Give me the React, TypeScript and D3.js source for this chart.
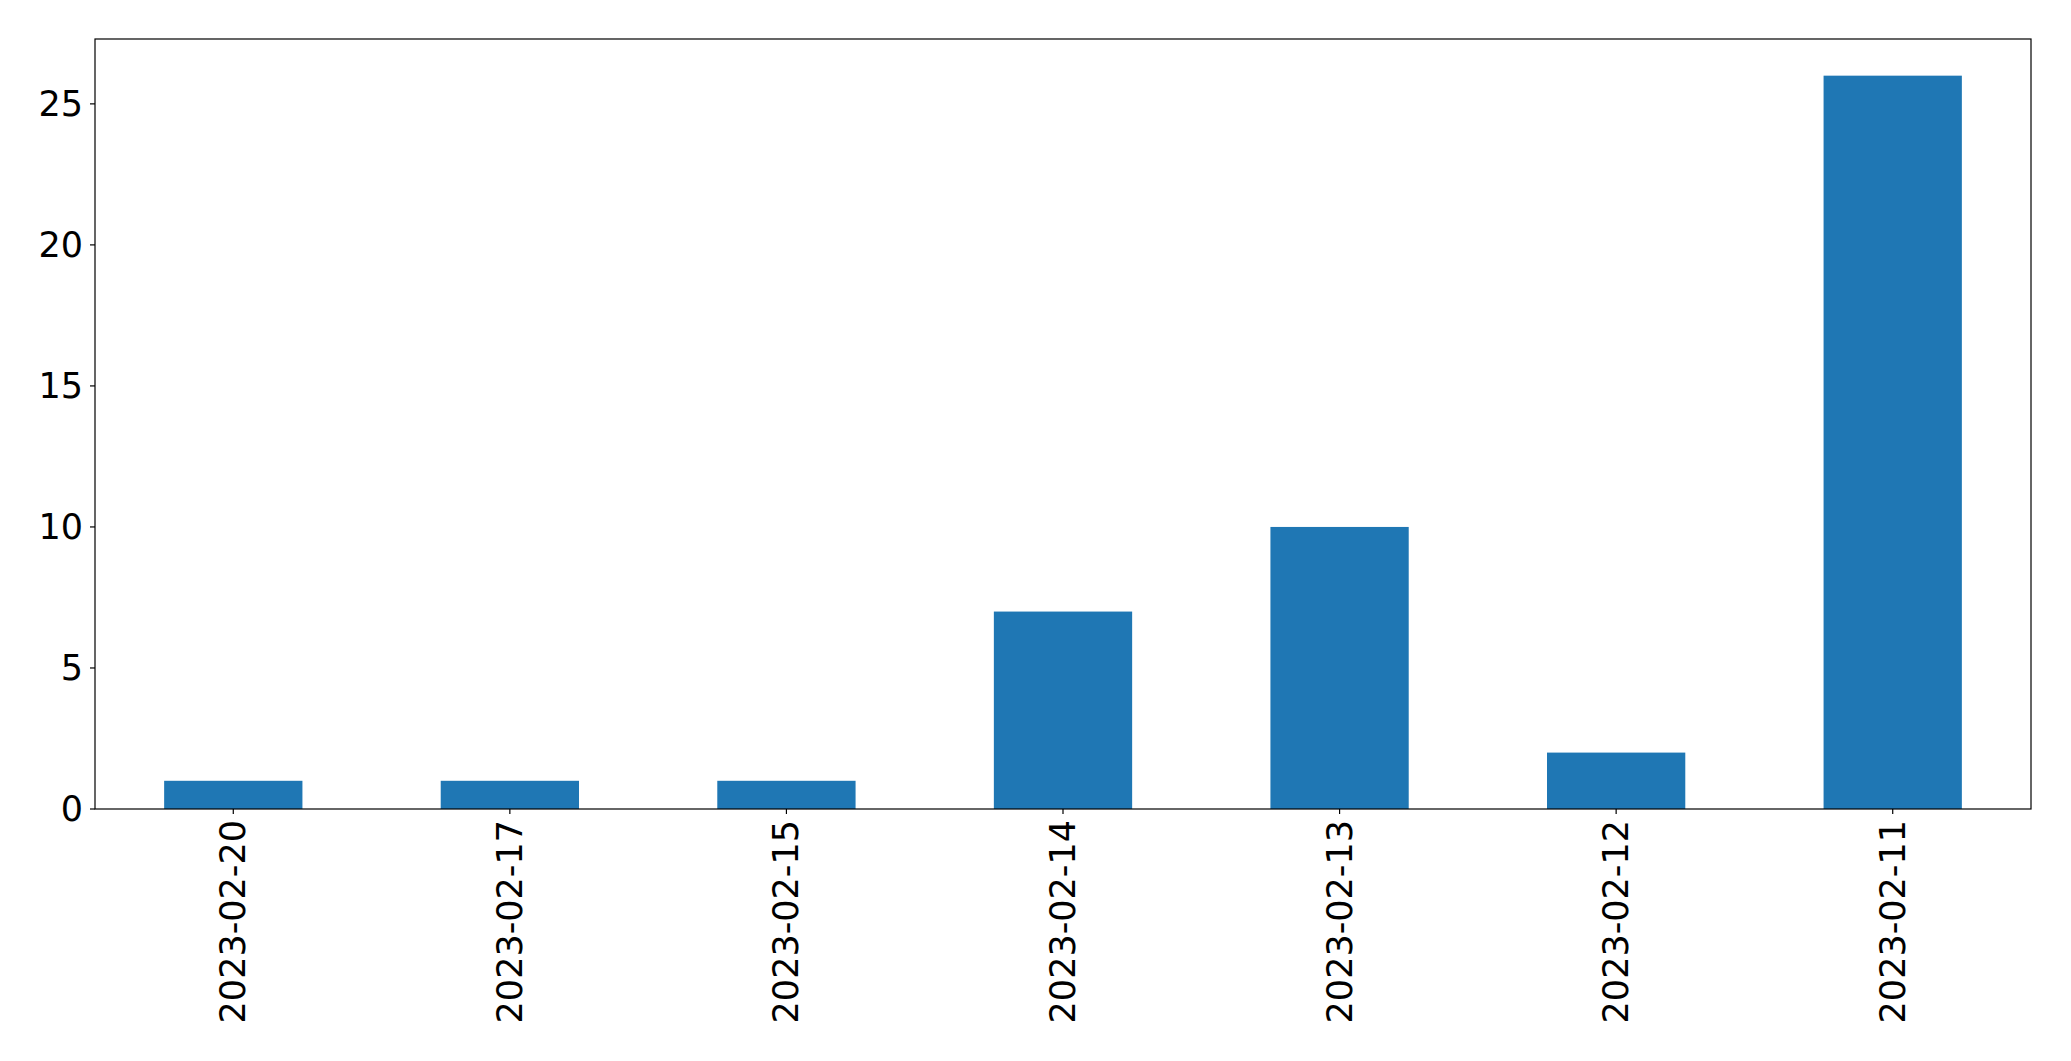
import React from "react";
import * as d3 from "d3";

const categories = ["2023-02-20", "2023-02-17", "2023-02-15", "2023-02-14", "2023-02-13", "2023-02-12", "2023-02-11"];
const values = [1, 1, 1, 7, 10, 2, 26];
const yTicks = [0, 5, 10, 15, 20, 25];

const W = 2071, H = 1061;
const left = 95, right = 2031, top = 39, bottom = 809;
const FONT = "DejaVu Sans, sans-serif";
const FS = 35;

export default function App() {
  const x = d3.scaleBand<string>().domain(categories).range([left, right]).padding(0);
  const yMax = d3.max(values)! * 1.05;
  const y = d3.scaleLinear().domain([0, yMax]).range([bottom, top]);
  const bw = x.bandwidth() * 0.5;
  return (
    <svg width={W} height={H} style={{ display: "block", position: "absolute", left: 0, top: 0 }}>
      <rect x={0} y={0} width={W} height={H} fill="#fff" />
      {categories.map((c, i) => {
        const cx = x(c)! + x.bandwidth() / 2;
        return (
          <rect key={c} x={cx - bw / 2} y={y(values[i])} width={bw} height={y(0) - y(values[i])} fill="#1f77b4" />
        );
      })}
      <rect x={left} y={top} width={right - left} height={bottom - top} fill="none" stroke="#000" strokeWidth={1.2} />
      {yTicks.map((t) => (
        <g key={t}>
          <line x1={left - 5} x2={left} y1={y(t)} y2={y(t)} stroke="#000" strokeWidth={1.2} />
          <text x={left - 12} y={y(t)} textAnchor="end" dominantBaseline="central" fontFamily={FONT} fontSize={FS} fill="#000">
            {t}
          </text>
        </g>
      ))}
      {categories.map((c) => {
        const cx = x(c)! + x.bandwidth() / 2;
        return (
          <g key={c}>
            <line x1={cx} x2={cx} y1={bottom} y2={bottom + 5} stroke="#000" strokeWidth={1.2} />
            <text
              transform={`translate(${cx},${bottom + 11}) rotate(-90)`}
              textAnchor="end"
              dominantBaseline="central"
              fontFamily={FONT}
              fontSize={FS}
              fill="#000"
            >
              {c}
            </text>
          </g>
        );
      })}
    </svg>
  );
}
